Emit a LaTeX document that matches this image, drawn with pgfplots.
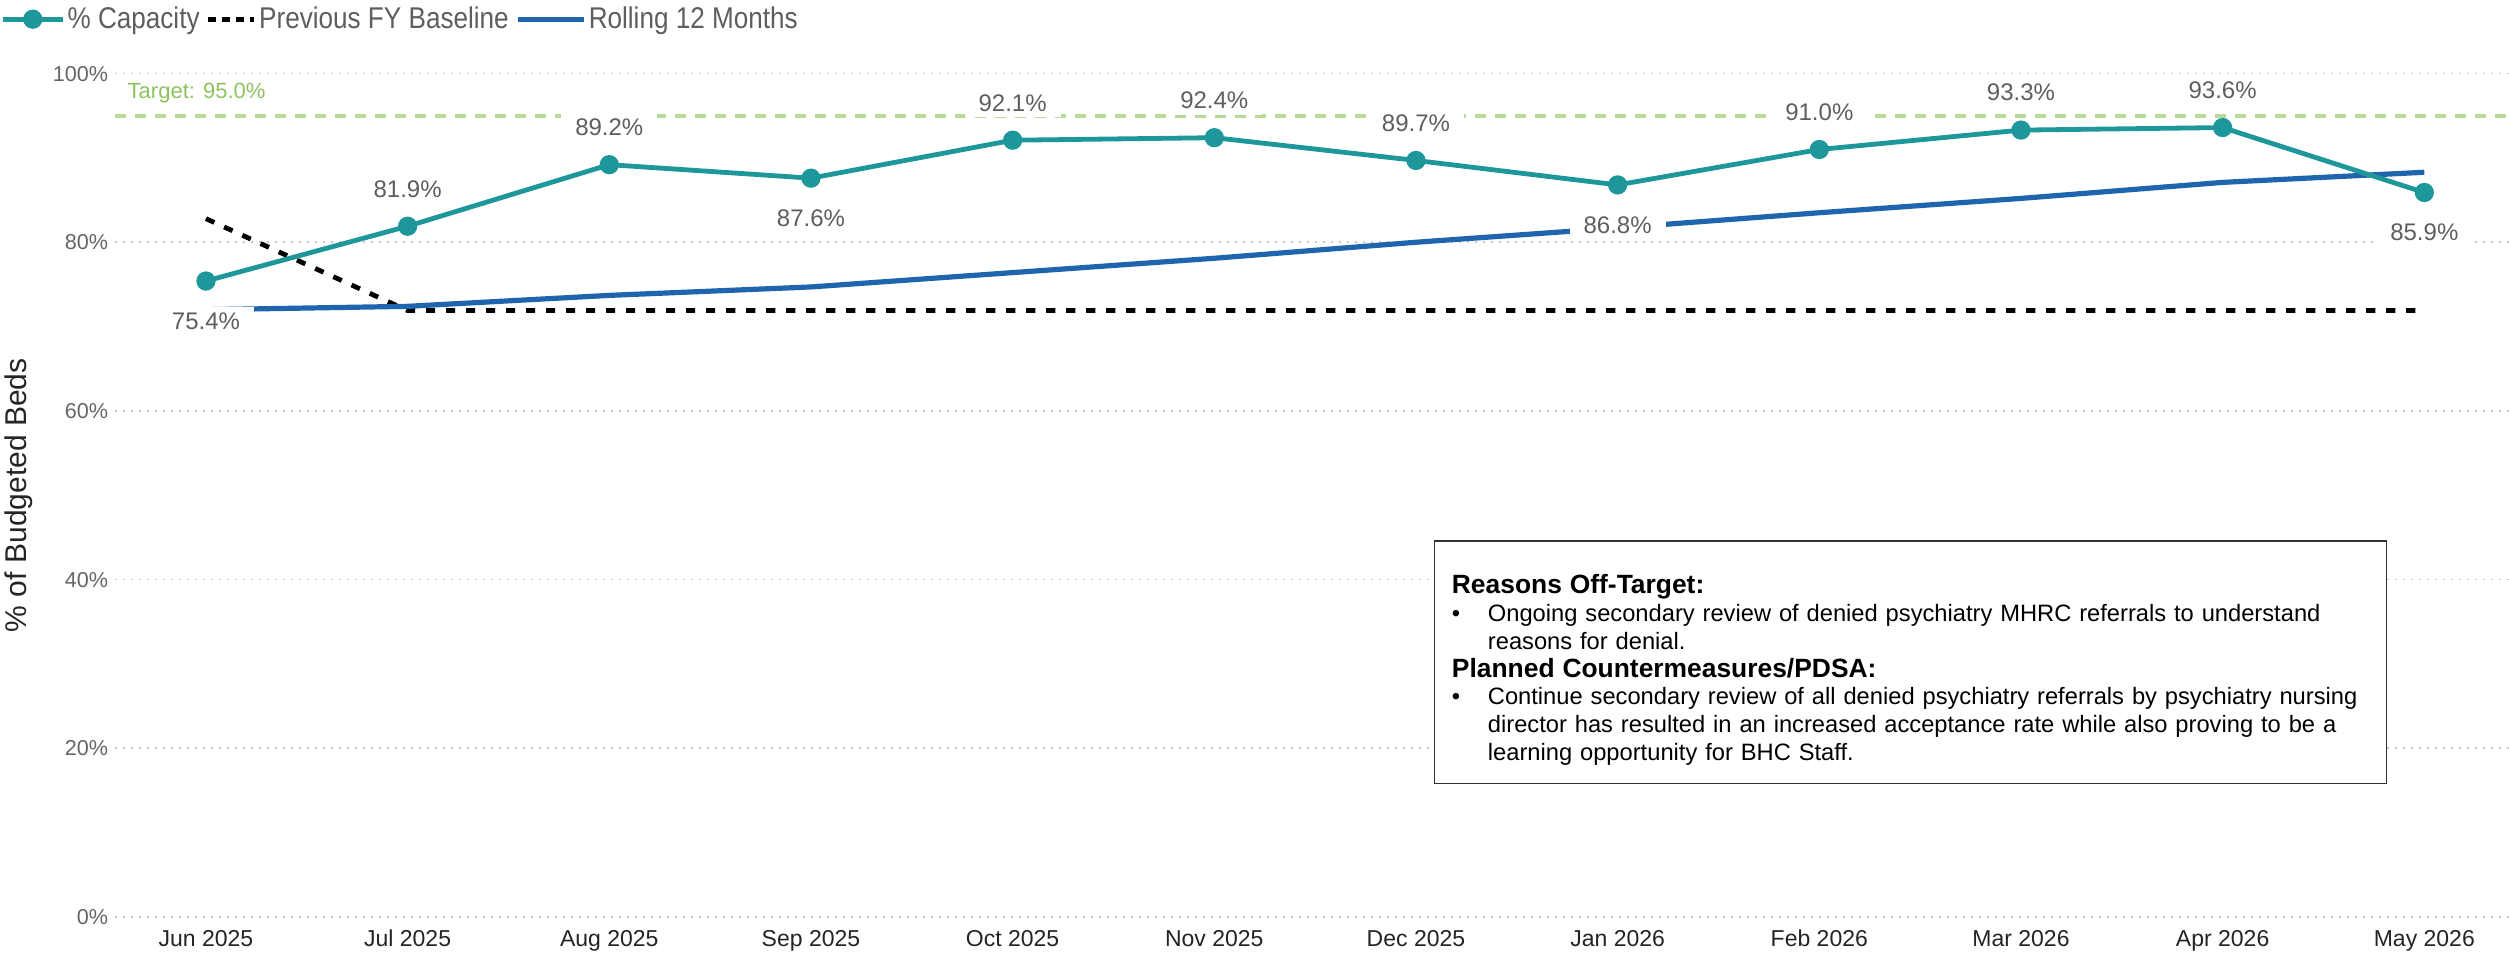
\documentclass[border=0pt]{standalone}
\usepackage{fontspec}
\setmainfont{Liberation Sans}
\newfontfamily\condfont[FakeStretch=0.87]{Liberation Sans}
\usepackage{pgfplots}
\pgfplotsset{compat=1.18}
\usepackage{pgfplotstable}
\usetikzlibrary{calc}
\definecolor{capcol}{HTML}{1E979B}
\definecolor{rollcol}{HTML}{1F65AD}
\definecolor{targetcol}{HTML}{B6DA98}
\definecolor{targettxt}{HTML}{8DC25E}
\definecolor{labelgray}{HTML}{605E5C}
\definecolor{tickgray}{HTML}{666666}
\definecolor{darktxt}{HTML}{252423}

\pgfplotsset{
  legline/.style={legend image code/.code={\draw[##1] (0pt,0pt) -- (#1,0pt);}},
  legmark/.style={legend image code/.code={\draw[mark repeat=2,mark phase=2,##1] plot coordinates {(0pt,0pt) (15pt,0pt) (30pt,0pt)};}},
}

\pgfplotstableread{
x   y     off
0   75.4  -20
1   81.9   18.7
2   89.2   18.7
3   87.6  -20
4   92.1   18.7
5   92.4   18.7
6   89.7   18.7
7   86.8  -20
8   91.0   18.7
9   93.3   18.7
10  93.6   18.7
11  85.9  -20
}\capacity

\pgfplotstableread{
x   y
0   82.8
1   71.9
2   71.9
3   71.9
4   71.9
5   71.9
6   71.9
7   71.9
8   71.9
9   71.9
10  71.9
11  71.9
}\baseline

\pgfplotstableread{
x   y
0   72.0
1   72.4
2   73.7
3   74.7
4   76.4
5   78.1
6   80.0
7   81.7
8   83.5
9   85.2
10  87.1
11  88.3
}\rolling

\pgfplotstableread{
x      y
-0.45  95
11.42  95
}\target

\begin{document}
\begin{tikzpicture}
\begin{axis}[
  name=ax,
  scale only axis,
  width=1196.8pt, height=421.6pt,
  xmin=-0.45, xmax=11.42,
  ymin=0, ymax=100,
  axis line style={draw=none},
  major tick length=0pt,
  xtick={0,...,11},
  xticklabels={Jun 2025,Jul 2025,Aug 2025,Sep 2025,Oct 2025,Nov 2025,Dec 2025,Jan 2026,Feb 2026,Mar 2026,Apr 2026,May 2026},
  xticklabel style={font=\fontsize{11.5}{13}\selectfont, text=darktxt, yshift=-3pt},
  ytick={0,20,40,60,80,100},
  yticklabels={0\%,20\%,40\%,60\%,80\%,100\%},
  yticklabel style={font=\fontsize{10.8}{12}\selectfont, text=tickgray},
  ymajorgrids,
  major grid style={gray!45, line width=0.8pt, dash pattern=on 0.8pt off 3.2pt},
  ylabel={\% of Budgeted Beds},
  ylabel style={at={(rel axis cs:0,0.5)}, anchor=center, yshift=48pt, font=\fontsize{15}{17}\selectfont, text=darktxt},
  legend style={at={(rel axis cs:0,1)}, anchor=west, xshift=-57.6pt, yshift=27.2pt,
    draw=none, fill=none, inner sep=0pt, legend columns=-1,
    nodes={inner sep=1.2pt},
    font=\condfont\fontsize{15}{17}\selectfont, text=labelgray,
    /tikz/every even column/.append style={column sep=2pt}},
  legend cell align=left,
  clip=false,
]
% target line
\addplot[targetcol, line width=2.2pt, dash pattern=on 5.2pt off 4.8pt, forget plot] table[x=x,y=y]{\target};
% baseline
\addplot[black, line width=2.4pt, dash pattern=on 4.6pt off 5.4pt, forget plot] table[x=x,y=y]{\baseline};
% rolling
\addplot[rollcol, line width=2.6pt, forget plot] table[x=x,y=y]{\rolling};
% capacity
\addplot[capcol, line width=2.4pt, mark=*, mark size=3.6pt, mark options={solid},
  forget plot,
  nodes near coords={\pgfmathprintnumber[fixed,precision=1,fixed zerofill,assume math mode=true]{\pgfplotspointmeta}\%},
  point meta=explicit,
  visualization depends on={\thisrow{off} \as \loff},
  every node near coord/.append style={anchor=center, yshift=\loff pt, fill=white, inner xsep=7pt, inner ysep=3pt,
     text=labelgray, font=\fontsize{12}{14}\selectfont},
] table[x=x,y=y,meta=y]{\capacity};

% legend entries
\addlegendimage{capcol, line width=2.4pt, mark=*, mark size=3.6pt, legmark}
\addlegendentry{\% Capacity}
\addlegendimage{black, line width=2.4pt, dash pattern=on 4pt off 3pt, legline=23pt}
\addlegendentry{Previous FY Baseline}
\addlegendimage{rollcol, line width=2.6pt, legline=33pt}
\addlegendentry{Rolling 12 Months}

\node[anchor=west, text=targettxt, font=\fontsize{11}{12}\selectfont, inner sep=0pt] at (axis cs:-0.39,97.7) {Target: 95.0\%};

\node[draw=black!80, line width=0.8pt, fill=white, anchor=north west, inner xsep=8.8pt, inner ysep=9pt, text width=458.4pt,
  font=\fontsize{11.85}{13.9}\selectfont, align=left] at (axis cs:6.087,44.7) {%
  {\fontsize{13.2}{13.9}\selectfont\rule{0pt}{17.5pt}\bfseries Reasons Off-Target:}\par
  \hangindent=18pt\hangafter=1\makebox[18pt][l]{•}Ongoing secondary review of denied psychiatry MHRC referrals to understand\newline reasons for denial.\par
  {\fontsize{13.2}{13.9}\selectfont\bfseries Planned Countermeasures/PDSA:}\par
  \hangindent=18pt\hangafter=1\makebox[18pt][l]{•}Continue secondary review of all denied psychiatry referrals by psychiatry nursing\newline director has resulted in an increased acceptance rate while also proving to be a\newline learning opportunity for BHC Staff.\par
};
\end{axis}
\pgfresetboundingbox
\path ($(ax.south west)+(-57.6pt,-20.8pt)$) rectangle ($(ax.north east)+(0pt,36.8pt)$);
\end{tikzpicture}
\end{document}
